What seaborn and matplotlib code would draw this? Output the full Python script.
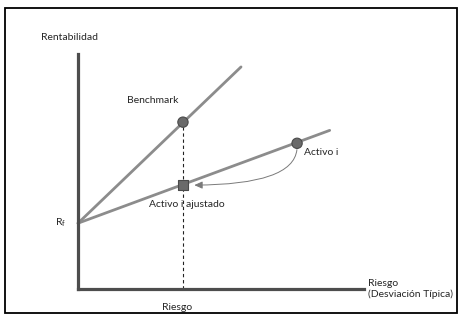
import matplotlib
matplotlib.use("Agg")
import matplotlib.pyplot as plt
import pandas as pd
import seaborn as sns
from matplotlib.patches import Rectangle

# values (risk on x, return on y, arbitrary units 0..10)
rf = 2.8
line_names = ["Benchmark", "Activo i"]
line_end_risk = [5.7, 8.8]
line_end_return = [9.45, 6.75]
point_names = ["Benchmark", "Activo i", "Activo i ajustado"]
point_risk = [3.67, 7.66, 3.67]
point_return = [7.1, 6.2, 4.42]
point_shape = ["o", "o", "s"]

sns.set_theme(style="white")
plt.rcParams["font.family"] = ["Lato", "DejaVu Sans"]
plt.rcParams["mathtext.default"] = "regular"

fig = plt.figure(figsize=(4.63, 3.19), dpi=100)
ax = fig.add_axes([78 / 463, 30 / 319, 286 / 463, 235 / 319])
ax.set_xlim(0, 10)
ax.set_ylim(0, 10)

# lines from the risk-free rate
lines = pd.DataFrame({
    "name": [n for n in line_names for _ in range(2)],
    "risk": [v for e in line_end_risk for v in (0, e)],
    "ret": [v for e in line_end_return for v in (rf, e)],
})
sns.lineplot(data=lines, x="risk", y="ret", units="name", estimator=None,
             color="#8c8c8c", linewidth=2.0, ax=ax, clip_on=False)

# dashed drop from the benchmark to the x axis
ax.plot([point_risk[0], point_risk[0]], [0, point_return[0]], color="#222222",
        linestyle=(0, (3, 2.5)), linewidth=0.8, zorder=1)

pts = pd.DataFrame({"name": point_names, "risk": point_risk,
                    "ret": point_return, "shape": point_shape})
sns.scatterplot(data=pts, x="risk", y="ret", style="shape",
                markers={"o": "o", "s": "s"}, s=55, color="#6a6a6a",
                edgecolor="#4a4a4a", linewidth=0.8, legend=False, ax=ax, zorder=3)

# curved arrow from Activo i to its adjusted position
ax.annotate("", xy=(point_risk[2] + 0.3, point_return[2]),
            xytext=(point_risk[1], point_return[1] - 0.15),
            arrowprops=dict(arrowstyle="-|>,head_length=0.4,head_width=0.18",
                            color="#7a7a7a", lw=0.7,
                            connectionstyle="angle3,angleA=-90,angleB=0"))

for s in ["top", "right"]:
    ax.spines[s].set_visible(False)
for s in ["left", "bottom"]:
    ax.spines[s].set_color("#4d4d4d")
    ax.spines[s].set_linewidth(2.3)
ax.set_xticks([])
ax.set_yticks([])
ax.set_xlabel("")
ax.set_ylabel("")

fs = 7.5
ax.text(-0.3, 10.5, "Rentabilidad", fontsize=fs, ha="center", va="bottom")
ax.text(2.6, 7.85, "Benchmark", fontsize=fs, ha="center", va="bottom")
ax.text(7.9, 5.8, "Activo i", fontsize=fs, ha="left", va="center")
ax.text(3.8, 3.6, "Activo i ajustado", fontsize=fs, ha="center", va="center")
ax.text(-0.4, rf, r"R$_f$", fontsize=fs, ha="right", va="center")
ax.text(3.45, -0.6, "Riesgo", fontsize=fs, ha="center", va="top")
ax.text(10.15, 0.0, "Riesgo\n(Desviación Típica)", fontsize=fs, ha="left",
        va="center", linespacing=1.3)

# outer frame
fig.patches.append(Rectangle((5 / 463, 6 / 319), 452 / 463, 305 / 319,
                             transform=fig.transFigure, fill=False,
                             edgecolor="black", linewidth=1.3))

fig.savefig("out.png", dpi=100)
